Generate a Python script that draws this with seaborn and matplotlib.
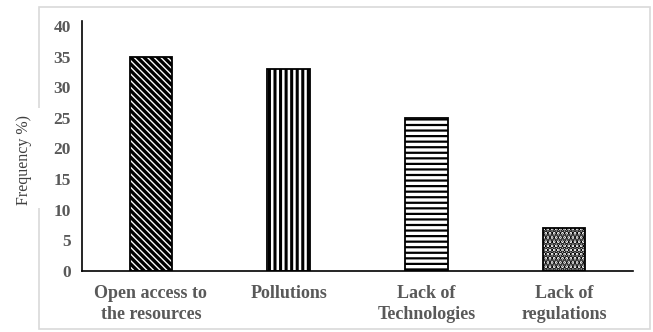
import matplotlib
matplotlib.use("Agg")
import matplotlib.pyplot as plt
import seaborn as sns
from matplotlib.patches import Rectangle

categories = ["Open access to\nthe resources", "Pollutions", "Lack of\nTechnologies", "Lack of\nregulations"]
frequency = [35, 33, 25, 7]
y_ticks = [0, 5, 10, 15, 20, 25, 30, 35, 40]
hatches = ["\\\\\\\\\\", "|||", "---", "...."]
hatch_widths = [2.4, 2.2, 1.6, 2.6]

sns.set_theme(style="white")
plt.rcParams["font.family"] = ["Liberation Serif", "DejaVu Serif"]
plt.rcParams["hatch.linewidth"] = 1.8
plt.rcParams["hatch.color"] = "black"

fig = plt.figure(figsize=(6.53, 3.32), dpi=100)
ax = fig.add_axes([82 / 653, 61 / 332, 551 / 653, 250 / 332])

sns.barplot(x=categories, y=frequency, color="white", edgecolor="black",
            linewidth=1.3, width=0.31, saturation=1, ax=ax)
for bar, h, hw in zip(ax.patches, hatches, hatch_widths):
    bar.set_hatch(h)
    bar.set_facecolor("white")
    if hasattr(bar, "set_hatch_linewidth"):
        bar.set_hatch_linewidth(hw)

ax.set_xlim(-0.5, 3.5)
ax.set_ylim(0, 40.8)
ax.set_yticks(y_ticks)
ax.set_yticklabels([str(t) for t in y_ticks])
ax.tick_params(axis="both", length=0, colors="#595959")
ax.tick_params(axis="y", pad=8)
ax.tick_params(axis="x", pad=10)
for lab in ax.get_xticklabels():
    lab.set_fontweight("bold")
    lab.set_fontsize(13)
    lab.set_color("#595959")
    lab.set_linespacing(1.3)
for lab in ax.get_yticklabels():
    lab.set_fontweight("bold")
    lab.set_fontsize(12.5)
    lab.set_color("#595959")

for s in ["top", "right"]:
    ax.spines[s].set_visible(False)
for s in ["left", "bottom"]:
    ax.spines[s].set_color("black")
    ax.spines[s].set_linewidth(1.2)
ax.set_xlabel("")
ax.set_ylabel("")

# light chart-area frame with a gap where the axis title sits
frame = Rectangle((39 / 653, 3 / 332), 611 / 653, 322 / 332, transform=fig.transFigure,
                  fill=False, edgecolor="#d9d9d9", linewidth=1.2, zorder=0)
fig.add_artist(frame)
gap = Rectangle((8 / 653, 124 / 332), 40 / 653, 100 / 332, transform=fig.transFigure,
                facecolor="white", edgecolor="none", zorder=1)
fig.add_artist(gap)
fig.text(24 / 653, 1 - 160 / 332, "Frequency %)", rotation=90, ha="center", va="center",
         fontsize=11.5, color="#404040", zorder=2)

fig.savefig("out.png", dpi=100)
